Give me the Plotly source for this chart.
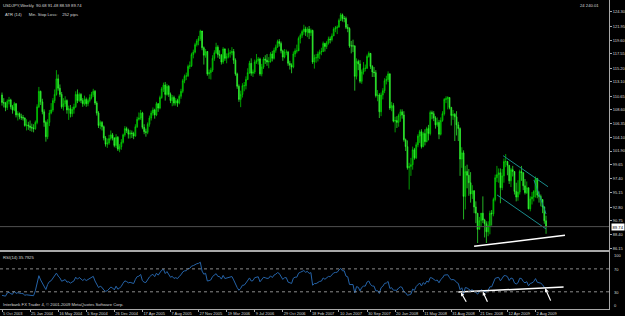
import pandas as pd
import numpy as np
import plotly.graph_objects as go

# ---------------- data (USDJPY weekly) ----------------
start_date = "2003-10-05"
# weekly closes before the first visible bar (Jun-Sep 2003), used to warm up the RSI
prior_closes = [118.2, 119.0, 117.6, 117.5, 119.3, 120.6, 118.9, 118.5, 118.4, 117.4,
                116.8, 116.6, 115.7, 111.5, 110.9]

closes = [
    # 2003
    109.7, 109.6, 108.9, 109.9, 110.1, 109.0, 108.5, 109.5, 107.7, 107.9, 107.4, 107.3, 107.2,
    # 2004
    106.0, 106.1, 105.9, 105.7, 105.6, 105.5, 106.5, 109.0, 111.5, 109.8, 108.2, 106.5, 104.2,
    106.5, 108.0, 108.5, 110.0, 111.0, 113.5, 112.0, 111.0, 109.0, 109.5, 110.0, 108.5, 108.7,
    107.9, 108.6, 109.0, 111.0, 110.0, 111.0, 110.0, 109.5, 110.2, 109.5, 110.0, 110.5, 111.0,
    111.5, 109.6, 108.0, 106.0, 106.5, 105.8, 104.0, 103.0, 103.2, 103.9, 104.5, 104.0, 102.8,
    # 2005
    104.1, 102.2, 102.6, 103.3, 104.5, 105.5, 105.2, 104.6, 104.8, 104.7, 104.3, 105.8, 107.0,
    107.2, 108.0, 105.7, 105.0, 104.9, 106.2, 107.2, 108.0, 108.5, 107.7, 109.5, 108.8, 110.5,
    111.9, 112.5, 111.0, 112.3, 111.0, 110.0, 110.5, 109.6, 110.0, 109.6, 110.7, 111.5, 113.2,
    113.9, 114.0, 115.5, 115.6, 117.4, 117.8, 119.0, 119.6, 120.0, 121.2, 118.5, 117.3, 117.9,
    # 2006
    114.3, 114.5, 114.9, 116.8, 117.7, 118.6, 117.4, 117.3, 116.2, 118.3, 116.8, 117.1, 117.6,
    117.7, 117.9, 116.5, 114.3, 112.3, 110.2, 111.0, 112.4, 112.4, 113.4, 114.5, 116.0, 114.4,
    114.6, 116.2, 116.4, 116.7, 114.3, 115.4, 116.7, 116.5, 116.2, 116.3, 117.5, 116.8, 118.1,
    118.6, 119.5, 119.2, 118.0, 117.0, 117.8, 117.8, 116.0, 115.7, 115.4, 117.5, 118.0, 118.0, 120.0,
    # 2007
    120.5, 121.1, 121.5, 121.0, 121.5, 120.9, 121.3, 116.2, 116.9, 116.9, 117.5, 117.8, 117.9,
    119.2, 118.7, 119.3, 119.9, 119.8, 120.4, 121.5, 121.7, 121.8, 122.9, 123.8, 123.2, 123.2,
    121.8, 121.6, 118.8, 118.8, 118.8, 113.9, 116.3, 115.9, 113.1, 114.6, 115.2, 115.2, 117.1,
    117.6, 115.5, 114.6, 114.5, 110.8, 110.9, 108.2, 110.9, 111.6, 113.2, 113.4, 114.3, 108.8,
    # 2008
    109.2, 106.7, 106.8, 106.5, 107.6, 108.2, 107.7, 103.7, 102.6, 99.2, 99.4, 99.7, 102.1,
    100.8, 102.9, 104.3, 105.0, 102.6, 104.7, 103.4, 105.5, 104.7, 108.1, 107.9, 107.2, 106.1,
    106.5, 104.6, 106.8, 107.9, 110.2, 110.3, 110.5, 108.9, 107.6, 107.8, 107.4, 106.1, 105.5,
    100.6, 101.6, 94.6, 98.6, 98.0, 96.8, 95.0, 95.5, 92.9, 91.9, 89.3, 90.7, 91.9,
    # 2009
    90.8, 90.2, 88.9, 89.9, 91.9, 91.8, 94.1, 97.6, 98.1, 98.4, 96.0, 97.9, 100.2,
    100.2, 99.6, 97.1, 98.9, 98.6, 95.4, 94.5, 95.3, 98.6, 98.4, 96.3, 95.2, 96.0,
    92.6, 94.2, 94.5, 95.4, 97.5, 94.8, 94.6, 94.1, 92.9, 90.68, 89.74,
]

highs = [
    111.3, 110.4, 109.8, 110.2, 110.6, 110.3, 109.3, 109.8, 109.6, 108.3, 108.1, 107.9, 107.7,
    107.3, 107.0, 106.6, 106.8, 106.3, 106.2, 106.8, 109.4, 112.2, 111.6, 110.3, 108.6, 106.8,
    107.0, 108.5, 109.6, 110.4, 111.8, 114.9, 114.2, 112.6, 111.4, 110.4, 110.7, 110.2, 109.2,
    109.3, 109.0, 109.5, 111.5, 111.8, 111.3, 111.2, 110.4, 110.8, 110.5, 110.3, 111.0, 111.4,
    111.9, 111.7, 109.9, 108.3, 106.8, 106.7, 106.0, 104.3, 103.9, 104.5, 105.2, 104.8, 104.1,
    104.6, 104.3, 103.0, 103.8, 104.7, 105.9, 105.8, 105.5, 105.3, 105.2, 105.0, 106.2, 107.4,
    108.1, 108.5, 108.2, 106.2, 105.5, 106.5, 107.6, 108.4, 108.9, 108.7, 109.8, 109.6, 110.8,
    112.2, 112.9, 113.0, 112.7, 112.5, 111.3, 110.9, 110.8, 110.4, 110.3, 111.0, 111.9, 113.5,
    114.2, 114.5, 115.8, 116.3, 117.7, 118.2, 119.3, 119.9, 120.4, 121.4, 121.0, 118.7, 118.3,
    117.8, 115.0, 115.3, 117.3, 118.1, 119.3, 118.9, 118.1, 117.5, 118.6, 118.4, 117.6, 118.4,
    118.1, 118.6, 118.3, 116.8, 114.5, 112.6, 111.6, 112.8, 113.0, 113.9, 115.2, 116.4, 116.8,
    115.0, 116.6, 117.5, 117.0, 116.9, 115.9, 117.0, 117.3, 117.5, 117.0, 117.8, 118.0, 118.5,
    119.0, 119.8, 119.9, 119.5, 118.2, 118.3, 118.2, 118.0, 116.4, 116.0, 117.9, 118.4, 119.0, 120.3,
    120.8, 121.4, 122.2, 121.9, 121.8, 122.0, 121.6, 121.4, 117.4, 117.5, 117.9, 118.2, 118.5,
    119.5, 119.3, 119.6, 120.3, 120.3, 120.8, 121.8, 122.0, 122.1, 123.2, 124.1, 124.0, 123.6,
    123.5, 122.3, 121.8, 119.6, 119.8, 118.9, 116.8, 116.6, 116.5, 115.0, 116.2, 115.8, 117.4,
    117.9, 117.5, 115.7, 115.4, 114.9, 111.7, 111.2, 111.3, 112.0, 113.6, 114.0, 114.7, 114.4,
    109.8, 109.6, 107.4, 107.5, 107.9, 108.6, 108.6, 108.3, 103.9, 103.6, 100.0, 100.8, 102.6,
    102.4, 103.3, 104.6, 105.3, 105.4, 105.0, 105.4, 105.8, 106.1, 108.4, 108.4, 108.3, 107.5,
    107.3, 106.9, 107.3, 108.3, 110.4, 110.7, 110.7, 110.5, 109.0, 108.5, 108.0, 108.3, 106.6,
    105.7, 102.5, 102.0, 99.5, 99.7, 99.0, 98.5, 96.4, 95.6, 93.8, 91.9, 91.3, 91.8,
    94.6, 91.0, 90.6, 90.6, 92.3, 92.4, 94.4, 98.1, 99.5, 99.1, 99.1, 99.0, 100.7,
    101.4, 100.3, 99.6, 99.2, 99.5, 98.0, 96.8, 97.2, 98.9, 99.5, 98.5, 97.4, 97.0,
    96.0, 94.6, 95.3, 95.6, 97.8, 97.5, 95.4, 94.9, 93.6, 93.0, 91.48,
]

lows = [
    109.2, 108.9, 108.3, 108.5, 109.4, 108.6, 107.9, 108.3, 107.3, 106.8, 107.0, 106.9, 106.8,
    105.8, 105.2, 105.3, 105.1, 105.0, 104.9, 105.3, 106.2, 108.8, 109.3, 107.8, 105.8, 103.4,
    103.8, 105.9, 107.8, 108.2, 109.6, 110.8, 111.6, 110.6, 108.7, 108.4, 109.0, 107.9, 106.9,
    107.3, 107.4, 107.9, 108.8, 109.6, 109.8, 109.6, 109.0, 109.2, 109.0, 109.1, 109.7, 110.2,
    110.6, 109.3, 107.6, 105.6, 105.4, 105.2, 103.6, 102.6, 102.4, 102.9, 103.6, 103.6, 102.5,
    102.4, 101.9, 101.7, 102.1, 103.1, 104.2, 104.8, 103.9, 103.9, 104.0, 103.8, 104.2, 105.6,
    106.8, 106.9, 105.4, 104.6, 104.2, 104.6, 105.8, 106.8, 107.6, 107.1, 107.5, 108.2, 108.6,
    110.3, 111.4, 110.0, 110.8, 110.6, 109.6, 109.1, 109.2, 109.2, 109.0, 109.4, 110.3, 111.2,
    112.8, 113.3, 113.8, 115.1, 115.4, 116.8, 117.6, 118.7, 118.9, 119.6, 118.1, 115.8, 116.9,
    114.0, 113.5, 113.4, 114.6, 116.4, 117.5, 116.9, 116.7, 115.8, 115.9, 116.4, 116.0, 116.8,
    116.9, 117.3, 115.9, 114.0, 111.9, 109.8, 108.95, 110.5, 111.5, 111.8, 113.3, 114.3, 114.0,
    113.8, 114.3, 115.9, 115.8, 114.0, 113.9, 115.1, 115.9, 115.6, 115.2, 116.1, 116.3, 116.6,
    117.7, 118.5, 118.7, 117.6, 116.4, 116.8, 117.3, 115.6, 115.0, 114.4, 115.2, 117.0, 117.6, 118.4,
    119.2, 120.1, 120.6, 120.4, 120.2, 119.9, 120.4, 115.9, 115.15, 116.1, 116.3, 116.7, 117.3,
    117.8, 117.9, 118.3, 119.0, 119.2, 119.5, 120.4, 121.0, 120.7, 121.8, 122.8, 122.7, 122.6,
    121.5, 121.0, 118.5, 117.6, 117.8, 111.6, 113.4, 114.9, 112.8, 112.7, 114.2, 114.7, 115.1,
    116.9, 115.1, 113.8, 113.8, 110.5, 109.9, 107.2, 107.5, 110.2, 111.2, 112.6, 113.0, 108.5,
    108.3, 106.5, 104.9, 105.6, 105.8, 106.6, 107.1, 103.4, 101.9, 98.9, 95.7, 97.9, 98.9,
    100.5, 100.6, 102.5, 103.2, 102.3, 102.5, 102.8, 103.3, 103.6, 104.4, 107.0, 106.7, 105.5,
    105.8, 103.8, 104.4, 106.6, 107.6, 109.6, 108.6, 108.6, 106.0, 106.9, 103.5, 104.4, 103.5,
    97.9, 99.2, 90.9, 92.5, 95.9, 94.7, 93.6, 94.2, 91.9, 90.3, 87.1, 89.6, 89.8,
    90.3, 88.0, 87.1, 88.2, 88.5, 89.9, 91.4, 93.8, 96.9, 96.8, 93.5, 95.6, 96.8,
    99.3, 98.0, 96.6, 96.1, 97.8, 94.9, 93.8, 93.9, 94.9, 97.1, 95.6, 94.9, 95.0,
    92.5, 92.2, 93.3, 93.8, 94.4, 94.3, 93.6, 93.0, 91.9, 90.2, 88.59,
]

price_ticks = [124.30, 121.95, 119.60, 117.55, 115.20, 113.10, 110.65, 108.60, 106.35,
               104.10, 101.90, 99.65, 97.40, 95.15, 92.80, 90.75, 88.40, 86.15]
date_ticks = ["2003-10-05", "2004-01-25", "2004-05-16", "2004-09-05", "2004-12-26",
              "2005-04-17", "2005-08-07", "2005-11-27", "2006-03-19", "2006-07-09",
              "2006-10-29", "2007-02-18", "2007-06-10", "2007-09-30", "2008-01-20",
              "2008-05-11", "2008-08-31", "2008-12-21", "2009-04-12", "2009-08-02"]
date_tick_text = ["5 Oct 2003", "25 Jan 2004", "16 May 2004", "5 Sep 2004", "26 Dec 2004",
                  "17 Apr 2005", "7 Aug 2005", "27 Nov 2005", "19 Mar 2006", "9 Jul 2006",
                  "29 Oct 2006", "18 Feb 2007", "10 Jun 2007", "30 Sep 2007", "20 Jan 2008",
                  "11 May 2008", "31 Aug 2008", "21 Dec 2008", "12 Apr 2009", "2 Aug 2009"]

header_text = "USDJPY,Weekly  90.68 91.48 88.59 89.74"
atr_text = "ATR (14)      Min. Stop Loss:    252 pips"
corner_text = "24 240.01"
rsi_text = "RSI(14) 35.7925"
copyright_text = "Interbank FX Trader 4, © 2001-2009 MetaQuotes Software Corp."
last_price_text = "89.74"

# user-drawn trendlines: (weeks after start, price)
price_trend_white = [(269.0, 86.58), (320.8, 88.35)]
channel_upper = [(285.5, 101.15), (311.1, 96.16)]
channel_lower = [(282.1, 94.83), (310.0, 89.36)]
channel_inner = [(303.1, 97.24), (310.0, 91.77)]
rsi_trend_white = [(260.0, 29.5), (320.0, 38.5)]
rsi_arrows = [((261.5, 29.0), (265.0, 10.0)), ((274.0, 30.0), (277.0, 10.0)),
              ((309.5, 36.0), (313.0, 12.0))]

# ---------------- derived ----------------
start = pd.Timestamp(start_date)
dates = pd.date_range(start, periods=len(closes), freq="7D")
first_open = prior_closes[-1]
opens = [first_open] + closes[:-1]

def wk(w):
    return start + pd.Timedelta(days=7 * w)

# RSI(14), Wilder smoothing, warmed up on the prior closes
allc = np.array(prior_closes + closes, dtype=float)
d = np.diff(allc)
gain = np.where(d > 0, d, 0.0)
loss = np.where(d < 0, -d, 0.0)
n = 14
ag = np.zeros_like(d)
al = np.zeros_like(d)
ag[0], al[0] = gain[0], loss[0]
for i in range(1, len(d)):
    k = min(i + 1, n)
    ag[i] = (ag[i - 1] * (k - 1) + gain[i]) / k
    al[i] = (al[i - 1] * (k - 1) + loss[i]) / k
rsi_all = 100 - 100 / (1 + ag / np.where(al == 0, 1e-9, al))
rsi = rsi_all[len(prior_closes) - 1:]

# ---------------- layout geometry ----------------
W, H = 625, 316
ml, mr, mt, mb = 0, 16, 0, 7
plot_w = W - ml - mr
plot_h = H - mt - mb
px_per_week = 1.755
x0_px = 2.0
x_left = start - pd.Timedelta(days=7 * x0_px / px_per_week)
x_right = start + pd.Timedelta(days=7 * (plot_w - x0_px) / px_per_week)

price_bottom_px = 250.0
price_dom = [1 - price_bottom_px / plot_h, 1]
rsi_top_px = 251.7
rsi_dom = [0, 1 - rsi_top_px / plot_h]

axis_col = "#a8a8a8"
text_col = "#d8d8d8"
font_fam = "Liberation Sans"

fig = go.Figure()
fig.add_trace(go.Candlestick(
    x=dates, open=opens, high=highs, low=lows, close=closes,
    increasing=dict(line=dict(color="#00e000", width=0.7), fillcolor="#007000"),
    decreasing=dict(line=dict(color="#33ff33", width=0.7), fillcolor="#22cc22"),
    whiskerwidth=0, xaxis="x", yaxis="y", showlegend=False, hoverinfo="skip"))

fig.add_trace(go.Scatter(
    x=dates, y=rsi, mode="lines", line=dict(color="#2563a8", width=1),
    xaxis="x2", yaxis="y2", showlegend=False, hoverinfo="skip"))

# trendlines
def seg(pts, col, xa, ya, w=1.2):
    fig.add_trace(go.Scatter(x=[wk(p[0]) for p in pts], y=[p[1] for p in pts],
                             mode="lines", line=dict(color=col, width=w),
                             xaxis=xa, yaxis=ya, showlegend=False, hoverinfo="skip"))

seg(price_trend_white, "#ffffff", "x", "y", 1.5)
seg(channel_upper, "#1a8c8c", "x", "y", 1)
seg(channel_lower, "#1a8c8c", "x", "y", 1)
seg(channel_inner, "#1a8c8c", "x", "y", 1)
seg(rsi_trend_white, "#ffffff", "x2", "y2", 1.5)

shapes = []
# last price line
shapes.append(dict(type="line", xref="paper", x0=0, x1=1, yref="y", y0=89.74, y1=89.74,
                   line=dict(color="#505050", width=1)))
# RSI levels
for lvl in (70, 30):
    shapes.append(dict(type="line", xref="paper", x0=0, x1=1, yref="y2", y0=lvl, y1=lvl,
                       line=dict(color="#8a8a8a", width=1, dash="dot")))

annotations = []
for tail, head in rsi_arrows:
    annotations.append(dict(x=wk(tail[0]), y=tail[1], xref="x2", yref="y2",
                            ax=wk(head[0]), ay=head[1], axref="x2", ayref="y2",
                            showarrow=True, arrowhead=2, arrowsize=0.6, arrowwidth=1.2,
                            arrowcolor="#ffffff", text=""))

def txt(s, x, y, xanchor="left", yanchor="middle", size=4.2, **kw):
    annotations.append(dict(text=s, x=x, y=y, xref="paper", yref="paper",
                            xanchor=xanchor, yanchor=yanchor, showarrow=False,
                            font=dict(family=font_fam, size=size, color=kw.get("color", text_col)),
                            bgcolor=kw.get("bgcolor", None), borderpad=0))

def py(pix):
    return 1 - (pix - mt) / plot_h

txt(header_text, 0.003, py(5))
txt(atr_text, 0.006, py(14.5))
txt(corner_text, 0.985, py(5), xanchor="right")
txt(rsi_text, 0.003, py(257))
txt(copyright_text, 0.003, py(304))
# RSI scale labels
for s, pix in (("100", 255), ("70", 269.5), ("30", 292), ("0", 305.5)):
    annotations.append(dict(text=s, x=1, y=py(pix), xref="paper", yref="paper",
                            xanchor="left", yanchor="middle", xshift=3, showarrow=False,
                            font=dict(family=font_fam, size=4, color=text_col)))
# last price box
annotations.append(dict(text=last_price_text, x=1, y=89.74, xref="paper", yref="y",
                        xanchor="left", yanchor="middle", xshift=2, showarrow=False,
                        font=dict(family=font_fam, size=4.2, color="#000000"),
                        bgcolor="#ffffff", borderpad=0.5))

fig.update_layout(
    width=W, height=H, margin=dict(l=ml, r=mr, t=mt, b=mb, autoexpand=False),
    paper_bgcolor="#000000", plot_bgcolor="#000000",
    shapes=shapes, annotations=annotations,
    xaxis=dict(domain=[0, 1], anchor="y", range=[x_left, x_right], type="date",
               showticklabels=False, showgrid=False, zeroline=False, automargin=False,
               showline=True, linecolor=axis_col, linewidth=1, rangeslider=dict(visible=False)),
    yaxis=dict(domain=price_dom, anchor="x", side="right", range=[85.98, 126.18],
               tickvals=price_ticks, ticktext=[f"{v:.2f}" for v in price_ticks],
               ticks="outside", ticklen=2, tickcolor=axis_col, automargin=False,
               tickfont=dict(family=font_fam, size=4, color=text_col),
               showgrid=False, zeroline=False, showline=True, linecolor=axis_col, linewidth=1),
    xaxis2=dict(domain=[0, 1], anchor="y2", matches="x", type="date",
                tickvals=date_ticks, ticktext=date_tick_text, tickangle=0,
                ticks="outside", ticklen=2, tickcolor=axis_col, automargin=False,
                ticklabelposition="outside right",
                tickfont=dict(family=font_fam, size=4, color=text_col),
                showgrid=False, zeroline=False, showline=True, mirror=True,
                linecolor=axis_col, linewidth=1),
    yaxis2=dict(domain=rsi_dom, anchor="x2", side="right", range=[0, 100],
                showticklabels=False, ticks="", showgrid=False, zeroline=False, automargin=False,
                showline=True, linecolor=axis_col, linewidth=1),
)

fig.write_html("out.html")
